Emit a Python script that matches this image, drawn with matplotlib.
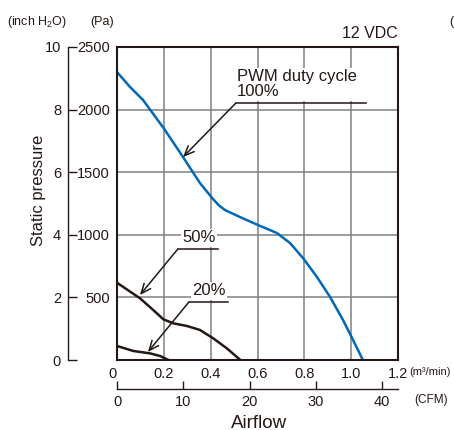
#!/usr/bin/env python3

import matplotlib.pyplot as plt
import numpy as np

# PWM duty cycle curves, airflow (m3/min) vs static pressure (Pa)
flow_100 = [0, 0.056, 0.111, 0.2, 0.282, 0.354, 0.408, 0.435, 0.461, 0.525, 0.602,
            0.683, 0.739, 0.794, 0.854, 0.91, 0.965, 1.008, 1.05]
pres_100 = [2300, 2180, 2077, 1850, 1621, 1414, 1290, 1235, 1198, 1142, 1078,
            1014, 934, 815, 663, 503, 320, 160, 0]

flow_50 = [0, 0.098, 0.155, 0.198, 0.24, 0.298, 0.354, 0.411, 0.469, 0.527]
pres_50 = [617, 493, 399, 325, 293, 272, 240, 173, 93, 0]

flow_20 = [0, 0.07, 0.141, 0.184, 0.22]
pres_20 = [112, 72, 53, 32, 0]

flow_ticks = [0, 0.2, 0.4, 0.6, 0.8, 1.0, 1.2]
flow_labels = ["0", "0.2", "0.4", "0.6", "0.8", "1.0", "1.2"]
pa_ticks = [0, 500, 1000, 1500, 2000, 2500]
pa_labels = ["", "500", "1000", "1500", "2000", "2500"]
inch_ticks = [0, 2, 4, 6, 8, 10]
cfm_ticks = [0, 10, 20, 30, 40]

M3MIN_TO_CFM = 35.315

BLUE = "#0068b7"
DARK = "#231815"
GRID = "#808080"
FONT = ["Liberation Sans", "DejaVu Sans"]
TICK_SIZE = 10.5
UNIT_SIZE = 8.5

W, H = 454, 430


def box(left, top, right, bottom):
	# pixel box -> figure fraction [l, b, w, h]
	return [left / W, 1 - bottom / H, (right - left) / W, (bottom - top) / H]


def ftext(x, y, s, **kw):
	return fig.text(x / W, 1 - y / H, s, family=FONT, color=DARK, **kw)


def main():
	global fig
	plt.rcParams["mathtext.fontset"] = "custom"
	plt.rcParams["mathtext.rm"] = "Liberation Sans"
	fig = plt.figure(figsize=(W / 100, H / 100), dpi=100)

	# main plot (m3/min vs Pa)
	ax = fig.add_axes(box(117, 47, 398, 360))
	ax.set_xlim(0, 1.2)
	ax.set_ylim(0, 2500)
	ax.set_xticks(flow_ticks)
	ax.set_xticklabels(flow_labels, family=FONT, fontsize=TICK_SIZE, color=DARK)
	ax.set_yticks(pa_ticks)
	ax.set_yticklabels(pa_labels, family=FONT, fontsize=TICK_SIZE, color=DARK)
	ax.tick_params(length=0, pad=5)
	ax.xaxis.get_ticklabels()[0].set_horizontalalignment("right")
	ax.grid(color=GRID, linewidth=1.1, zorder=0)
	ax.set_axisbelow(True)
	for s in ax.spines.values():
		s.set_linewidth(1.5)
		s.set_color(DARK)
		s.set_zorder(5)

	ax.plot(flow_100, pres_100, color=BLUE, lw=1.8, zorder=3, solid_joinstyle="round")
	ax.plot(flow_50, pres_50, color=DARK, lw=1.8, zorder=3, solid_joinstyle="round")
	ax.plot(flow_20, pres_20, color=DARK, lw=1.8, zorder=3, solid_joinstyle="round")

	# leader lines with underlined labels
	arrow = dict(arrowstyle="->,head_length=0.7,head_width=0.3", color=DARK, lw=1.1,
	             shrinkA=0, shrinkB=0)
	leaders = [
		("PWM duty cycle\n100%", (0.282, 1621), (0.508, 2053), 1.063, 0.512),
		("50%", (0.098, 519), (0.26, 887), 0.431, 0.278),
		("20%", (0.132, 64), (0.307, 463), 0.474, 0.32),
	]
	for label, tip, elbow, line_end, text_x in leaders:
		ax.annotate("", xy=tip, xytext=elbow, arrowprops=arrow, zorder=4)
		ax.plot([elbow[0], line_end], [elbow[1], elbow[1]], color=DARK, lw=1.1, zorder=4)
		ax.text(text_x, elbow[1] + 30, label, ha="left", va="bottom", fontsize=12,
		        family=FONT, color=DARK, linespacing=1.0, zorder=4,
		        bbox=dict(facecolor="white", edgecolor="none", pad=1))

	# inch H2O axis
	ax_in = fig.add_axes(box(68, 47, 69, 360))
	ax_in.patch.set_visible(False)
	for side in ["top", "right", "bottom"]:
		ax_in.spines[side].set_visible(False)
	ax_in.spines["left"].set_linewidth(1.0)
	ax_in.spines["left"].set_color(DARK)
	ax_in.set_ylim(0, 10)
	ax_in.set_yticks(inch_ticks)
	ax_in.set_yticklabels([str(t) for t in inch_ticks], family=FONT, fontsize=TICK_SIZE, color=DARK)
	ax_in.set_xticks([])
	ax_in.tick_params(axis="y", direction="in", length=6.5, width=1.0, pad=5, color=DARK)

	# CFM axis
	ax_cfm = fig.add_axes(box(117, 380, 398, 389))
	ax_cfm.patch.set_visible(False)
	for side in ["top", "right", "left"]:
		ax_cfm.spines[side].set_visible(False)
	ax_cfm.spines["bottom"].set_linewidth(1.0)
	ax_cfm.spines["bottom"].set_color(DARK)
	ax_cfm.set_xlim(0, 1.2 * M3MIN_TO_CFM)
	ax_cfm.set_xticks(cfm_ticks)
	ax_cfm.set_xticklabels([str(t) for t in cfm_ticks], family=FONT, fontsize=TICK_SIZE, color=DARK)
	ax_cfm.set_yticks([])
	ax_cfm.tick_params(axis="x", direction="in", length=6, width=1.0, pad=4, color=DARK)

	# labels
	ftext(7, 22, "(inch H$_\\mathregular{2}$O)", fontsize=9, va="center")
	ftext(90, 22, "(Pa)", fontsize=9, va="center")
	ftext(398, 33, "12 VDC", fontsize=11.5, ha="right", va="center")
	ftext(449, 22, "(", fontsize=9, va="center")
	ftext(39, 190, "Static pressure", fontsize=12, rotation=90, ha="center", va="center")
	ftext(259, 423, "Airflow", fontsize=13.5, ha="center", va="center")
	ftext(409, 372, "(m\u00b3/min)", fontsize=8, va="center")
	ftext(414, 400, "(CFM)", fontsize=UNIT_SIZE, va="center")

	fig.savefig("out.png", dpi=100)


if __name__ == '__main__':
	main()
